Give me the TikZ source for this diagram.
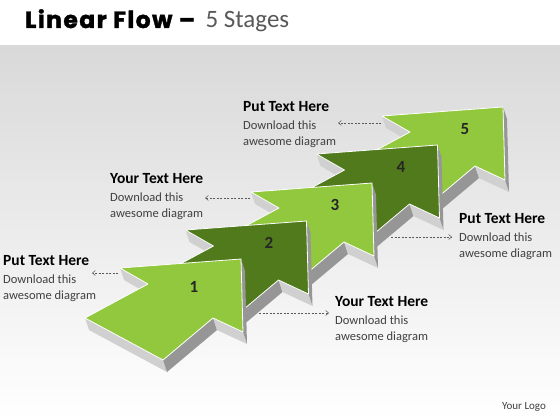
\documentclass[tikz,border=0pt]{standalone}
\usepackage{fontspec}
\setmainfont{Carlito}
\newfontfamily\titlefont{Poppins}[FakeBold=1.5, LetterSpace=6]
\usetikzlibrary{arrows.meta}
\usetikzlibrary{positioning}

\definecolor{lightgreen}{RGB}{146,200,62}
\definecolor{darkgreen}{RGB}{80,122,28}
\definecolor{sidelight}{RGB}{208,208,208}
\definecolor{sidedark}{RGB}{150,150,150}
\definecolor{textgray}{RGB}{64,64,64}
\definecolor{titlegray}{RGB}{89,89,89}

\tikzset{
  head/.style={anchor=base west, inner sep=0, font=\bfseries\fontsize{15.5}{15.5}\selectfont, text=black},
  body/.style={anchor=base west, inner sep=0, font=\fontsize{12.5}{12.5}\selectfont, text=textgray},
  num/.style={inner sep=0, font=\bfseries\fontsize{17}{17}\selectfont, text=black!85},
  lead/.style={draw=black!65, dash pattern=on 2pt off 1.5pt, line width=0.5pt,
               -{Straight Barb[length=3pt,width=5pt]}},
  topface/.style={draw=white, line width=0.8pt, line join=round}
}

\begin{document}
\begin{tikzpicture}[x=1pt, y=-1pt]
	\useasboundingbox (0,0) rectangle (560,420);
	\fill[white] (0,0) rectangle (560,420);
	\shade[top color=black!15, middle color=black!6, bottom color=white] (0,46) rectangle (560,420);

	% title
	\node[anchor=base west, inner sep=0] (title) at (25,28)
		{\titlefont\bfseries\fontsize{23.5}{23.5}\selectfont Linear Flow \textendash};
	\node[anchor=base west, inner sep=0, text=titlegray] (stages) at ([xshift=10]title.base east)
		{\fontsize{25}{25}\selectfont 5 Stages};

	% the five arrows, back to front
	\foreach \i/\tx/\ty/\col/\nx/\ny in {5/503/107/lightgreen/465/129,
	                                     4/437.5/145/darkgreen/401/167,
	                                     3/372/183/lightgreen/335/205,
	                                     2/306.5/221/darkgreen/269/243,
	                                     1/241/259/lightgreen/194/287} {
		\begin{scope}[shift={(\tx,\ty)}]
			\fill[sidelight] (-121,9) -- (-93,25) -- (-89,37) -- (-117,21) -- cycle;
			\fill[sidelight] (-156,59) -- (-78,101) -- (-74,113) -- (-152,71) -- cycle;
			\fill[sidedark] (-78,101) -- (-28,59) -- (-24,71) -- (-74,113) -- cycle;
			\fill[sidelight] (-28,59) -- (2,73) -- (6,85) -- (-24,71) -- cycle;
			\fill[sidedark] (2,73) -- (0,0) -- (4,12) -- (6,85) -- cycle;
			\draw[topface, fill=\col] (0,0) -- (-121,9) -- (-93,25) -- (-156,59)
				-- (-78,101) -- (-28,59) -- (2,73) -- cycle;
		\end{scope}
		\node[num] (n\i) at (\nx,\ny) {\i};
	}

	% labels
	\foreach \k/\x/\y/\txt in {1/3/265/Put Text Here,
	                           2/110/183/Your Text Here,
	                           3/243/111/Put Text Here,
	                           4/459/223/Put Text Here,
	                           5/335/306/Your Text Here} {
		\node[head] (h\k) at (\x,\y) {\txt};
		\node[body] (d\k) at (\x,\y+18) {Download this};
		\node[body] (a\k) at (\x,\y+34) {awesome diagram};
	}

	% dashed leaders
	\coordinate (p1) at (118,273);  \coordinate (l1) at (92,273);
	\coordinate (p2) at (250,198);  \coordinate (l2) at (205,198);
	\coordinate (p3) at (381,123);  \coordinate (l3) at (338,123);
	\coordinate (p4) at (391,237);  \coordinate (l4) at (452,237);
	\coordinate (p5) at (259,313);  \coordinate (l5) at (329,313);
	\foreach \k in {1,...,5}
		\draw[lead] (p\k) -- (l\k);

	\node[inner sep=0, text=black!75, font=\fontsize{11}{11}\selectfont] (logo) at (524,407) {Your Logo};
\end{tikzpicture}
\end{document}
